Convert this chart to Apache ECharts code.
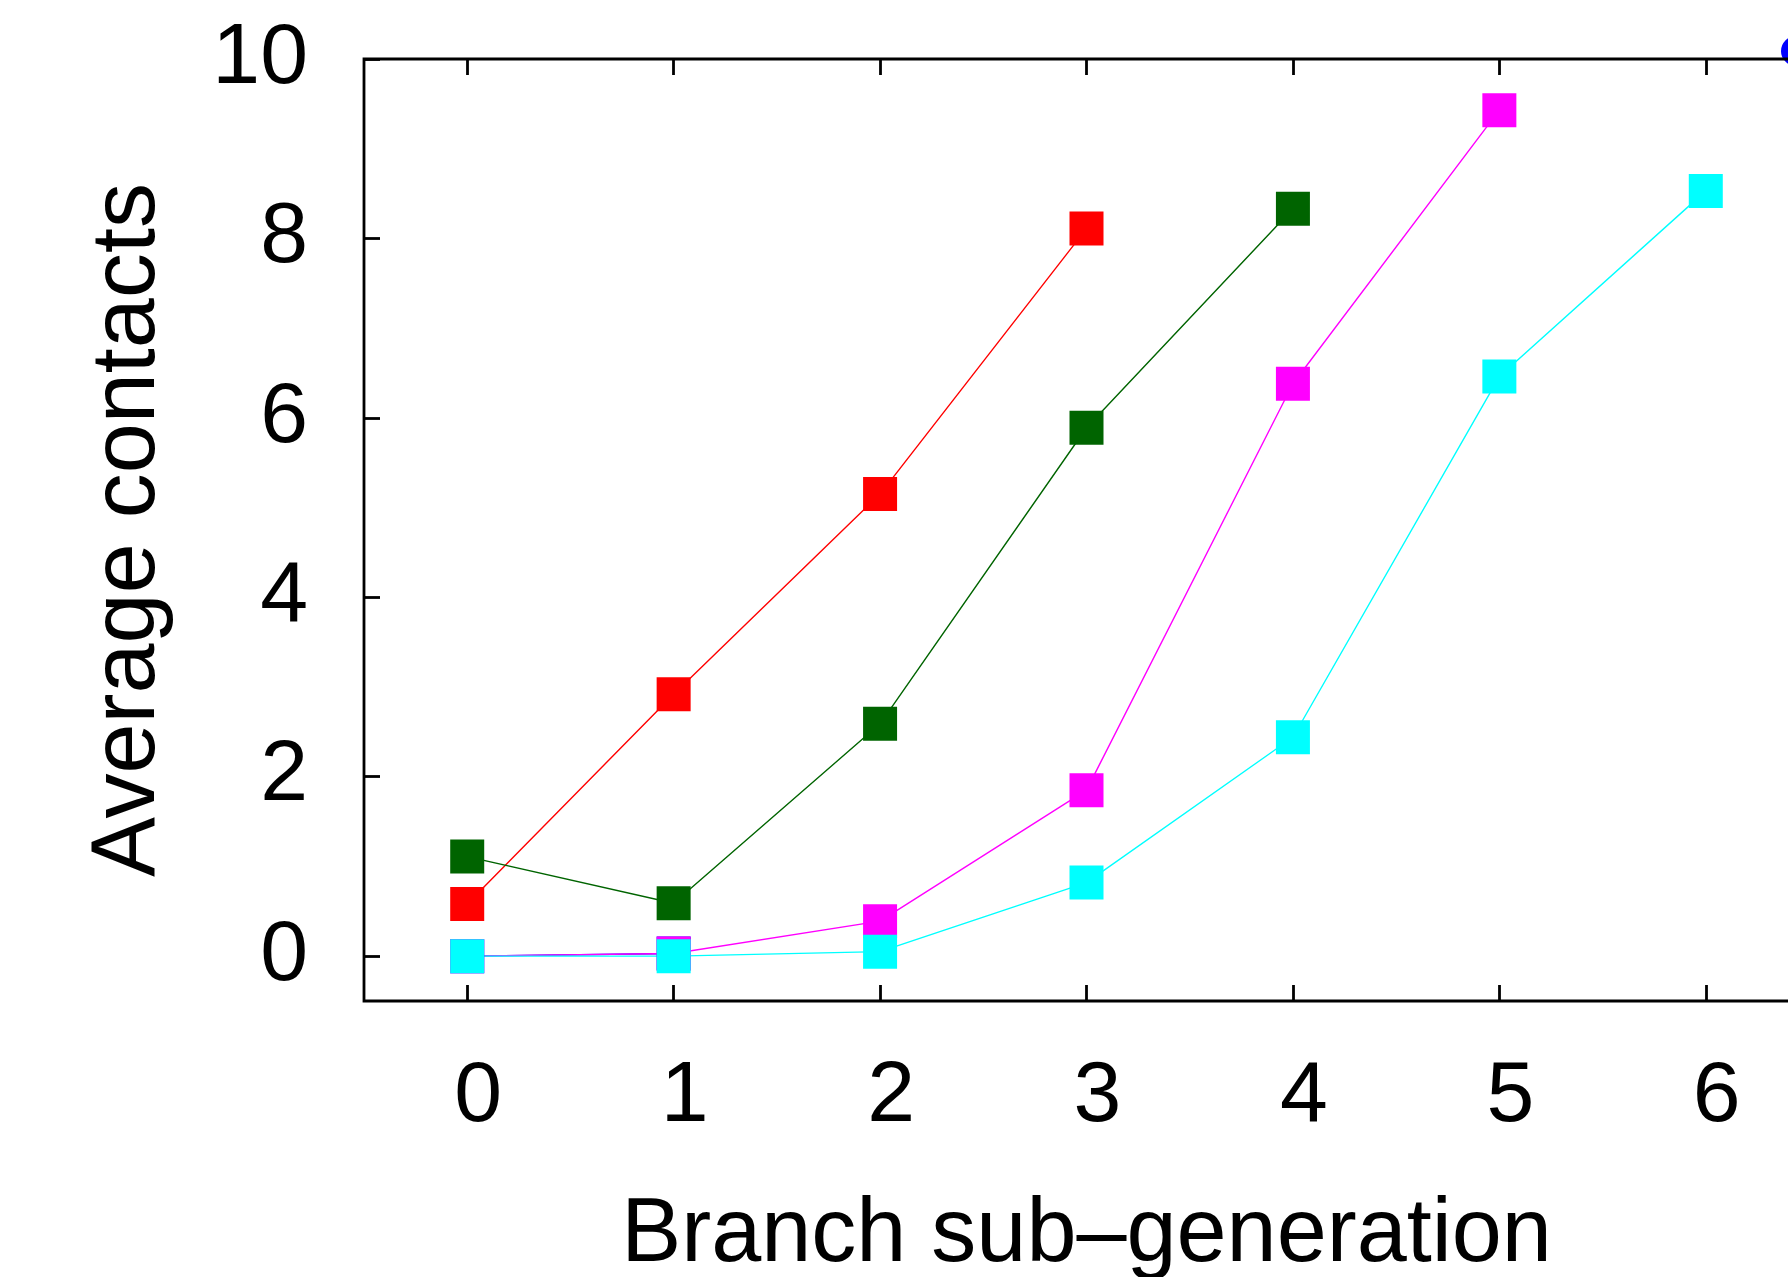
<!DOCTYPE html>
<html>
<head>
<meta charset="utf-8">
<script src="https://cdn.jsdelivr.net/npm/echarts@6/dist/echarts.min.js"></script>
<style>html,body{margin:0;padding:0;background:#fff}#c{width:1788px;height:1277px}</style>
</head>
<body>
<div id="c"></div>
<script>
const xTicks = [0, 1, 2, 3, 4, 5, 6];
const yTicks = [0, 2, 4, 6, 8, 10];
const redX = [0, 1, 2, 3];
const redY = [0.58, 2.92, 5.15, 8.11];
const greenX = [0, 1, 2, 3, 4];
const greenY = [1.11, 0.59, 2.59, 5.89, 8.33];
const blueX = [0, 1];
const blueY = [0.0, 0.03];
const magentaX = [0, 1, 2, 3, 4, 5];
const magentaY = [0.0, 0.03, 0.39, 1.85, 6.38, 9.43];
const cyanX = [0, 1, 2, 3, 4, 5, 6];
const cyanY = [0.0, 0.0, 0.05, 0.82, 2.44, 6.46, 8.53];

const FONT = 'Liberation Sans, Arial, Helvetica, sans-serif';
function pairs(xs, ys) { return xs.map((x, i) => [x, ys[i]]); }
function ser(name, xs, ys, color) {
  return {
    name: name, type: 'line', data: pairs(xs, ys),
    symbol: 'rect', symbolSize: 34, showSymbol: true,
    itemStyle: { color: color },
    lineStyle: { color: color, width: 1.4 },
    animation: false, z: 2
  };
}

const chart = echarts.init(document.getElementById('c'), null, { renderer: 'canvas' });
chart.setOption({
  backgroundColor: '#fff',
  animation: false,
  grid: { left: 364, top: 59, right: -21, bottom: 276, containLabel: false, outerBoundsMode: 'none', show: true, borderColor: '#000', borderWidth: 2.8, backgroundColor: 'transparent', z: 10 },
  legend: {
    data: ['blue'], left: 1776, top: 26, icon: 'circle', itemWidth: 34, itemHeight: 30,
    textStyle: { fontSize: 40, color: '#000' }, selectedMode: false
  },
  xAxis: [{
    type: 'value', min: -0.5, max: 6.5,
    name: 'Branch sub\u2013generation', nameLocation: 'middle', nameGap: 190,
    nameTextStyle: { fontSize: 90, fontFamily: FONT, color: '#000' },
    axisLine: { show: false, onZero: false },
    axisTick: { show: true, inside: true, length: 16, customValues: xTicks, lineStyle: { color: '#000', width: 2.8 } },
    axisLabel: { show: true, customValues: xTicks, fontSize: 86, fontFamily: FONT, color: '#000', margin: 53, padding: [0, 0, 0, 22] },
    splitLine: { show: false }
  }, {
    type: 'value', position: 'top', min: -0.5, max: 6.5,
    axisLine: { show: false, onZero: false },
    axisTick: { show: true, inside: true, length: 16, customValues: xTicks, lineStyle: { color: '#000', width: 2.8 } },
    axisLabel: { show: false },
    splitLine: { show: false }
  }],
  yAxis: {
    type: 'value', min: -0.5, max: 10,
    name: 'Average contacts', nameLocation: 'middle', nameGap: 190, nameRotate: 90,
    nameTextStyle: { fontSize: 90, fontFamily: FONT, color: '#000' },
    axisLine: { show: false, onZero: false },
    axisTick: { show: true, inside: true, length: 16, customValues: yTicks, lineStyle: { color: '#000', width: 2.8 } },
    axisLabel: { show: true, customValues: yTicks, fontSize: 86, fontFamily: FONT, color: '#000', margin: 56 },
    splitLine: { show: false }
  },
  series: [
    ser('red', redX, redY, '#ff0000'),
    ser('green', greenX, greenY, '#006400'),
    ser('blue', blueX, blueY, '#0000ff'),
    ser('magenta', magentaX, magentaY, '#ff00ff'),
    ser('cyan', cyanX, cyanY, '#00ffff')
  ]
});
</script>
</body>
</html>
